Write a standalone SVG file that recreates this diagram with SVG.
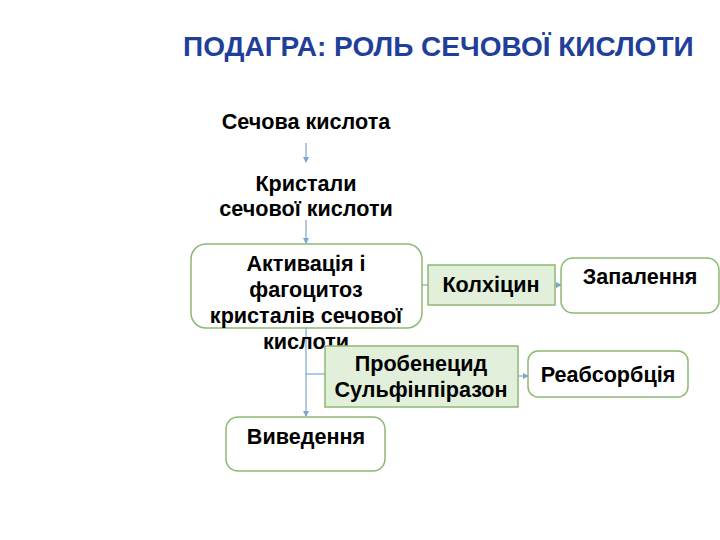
<svg xmlns="http://www.w3.org/2000/svg" width="720" height="540" viewBox="0 0 720 540">
<style>
text{font-family:"Liberation Sans",Arial,sans-serif;font-weight:bold;fill:#000;text-anchor:middle}
.t{font-size:21.6px}
.title{font-size:28px;fill:#1F3F9A;text-anchor:start}
.box{fill:#fff;stroke:#8DB873;stroke-width:1.5}
.drug{fill:#E2EFDA;stroke:#8DB873;stroke-width:1.5}
.c{stroke:#7BA7CF;stroke-width:1.2;fill:none}
</style>
<defs>
<marker id="a" markerWidth="6" markerHeight="6" refX="5" refY="3" orient="auto" markerUnits="userSpaceOnUse">
<path d="M0,0 L6,3 L0,6 z" fill="#7BA7CF"/>
</marker>
</defs>
<rect width="720" height="540" fill="#fff"/>
<text class="title" x="183" y="56">ПОДАГРА: РОЛЬ СЕЧОВОЇ КИСЛОТИ</text>
<g id="connectors">
<line class="c" x1="306" y1="143" x2="306" y2="162" marker-end="url(#a)"/>
<line class="c" x1="306" y1="220" x2="306" y2="243" marker-end="url(#a)"/>
<line class="c" x1="422" y1="285" x2="428" y2="285"/>
<line class="c" x1="555" y1="285" x2="561" y2="285" marker-end="url(#a)"/>
<line class="c" x1="306" y1="328" x2="306" y2="416" marker-end="url(#a)"/>
<line class="c" x1="306" y1="374" x2="325" y2="374"/>
<line class="c" x1="518" y1="376" x2="528" y2="376" marker-end="url(#a)"/>
</g>
<g id="uric">
<text class="t" x="306" y="129">Сечова кислота</text>
</g>
<g id="crystals">
<text class="t" x="306" y="191">Кристали</text>
<text class="t" x="306" y="216">сечової кислоти</text>
</g>
<g id="activation">
<rect class="box" x="191" y="244" width="231" height="84" rx="15"/>
<text class="t" x="306" y="271">Активація і</text>
<text class="t" x="306" y="297">фагоцитоз</text>
<text class="t" x="306" y="323">кристалів сечової</text>
<text class="t" x="306" y="349">кислоти</text>
</g>
<g id="colchicine">
<rect class="drug" x="428" y="265" width="127" height="40"/>
<text class="t" x="491" y="292">Колхіцин</text>
</g>
<g id="inflammation">
<rect class="box" x="561" y="258" width="158" height="55" rx="12"/>
<text class="t" x="640" y="284">Запалення</text>
</g>
<g id="probenecid">
<rect class="drug" x="325" y="346" width="193" height="61"/>
<text class="t" x="421" y="371">Пробенецид</text>
<text class="t" x="421" y="397">Сульфінпіразон</text>
</g>
<g id="reabsorption">
<rect class="box" x="528" y="351" width="160" height="46" rx="10"/>
<text class="t" x="608" y="382">Реабсорбція</text>
</g>
<g id="excretion">
<rect class="box" x="226" y="417" width="159" height="54" rx="12"/>
<text class="t" x="306" y="444">Виведення</text>
</g>
</svg>
